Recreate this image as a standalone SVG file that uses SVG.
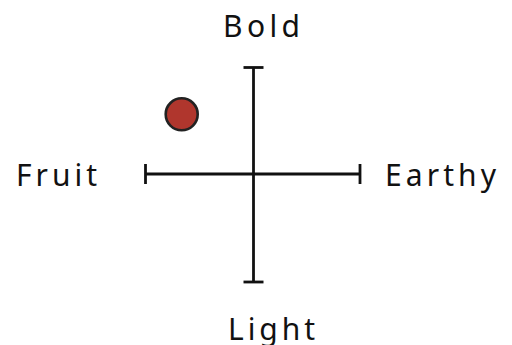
<svg xmlns="http://www.w3.org/2000/svg" width="512" height="345" viewBox="0 0 512 345">
<style>
.ax{stroke:#111;stroke-width:2.8;fill:none}
.lbl{font-family:"Noto Sans","DejaVu Sans",sans-serif;font-size:30px;fill:#111;letter-spacing:2px}
</style>
<rect width="512" height="345" fill="#fff"/>
<g id="axes">
<line class="ax" x1="253.5" y1="67.5" x2="253.5" y2="282"/>
<line class="ax" x1="243.5" y1="67.5" x2="263.5" y2="67.5"/>
<line class="ax" x1="243.5" y1="282" x2="263.5" y2="282"/>
<line class="ax" x1="145.5" y1="174" x2="360" y2="174"/>
<line class="ax" x1="145.5" y1="164" x2="145.5" y2="184"/>
<line class="ax" x1="360" y1="164" x2="360" y2="184"/>
</g>
<g id="point"><circle cx="181.7" cy="114.3" r="16" fill="#b0362d" stroke="#222" stroke-width="2.6"/></g>
<g id="label-bold"><text class="lbl" x="223" y="37" textLength="79" lengthAdjust="spacing">Bold</text></g>
<g id="label-fruit"><text class="lbl" x="16" y="186" textLength="83" lengthAdjust="spacing">Fruit</text></g>
<g id="label-earthy"><text class="lbl" x="385" y="186" textLength="113" lengthAdjust="spacing">Earthy</text></g>
<g id="label-light"><text class="lbl" x="228" y="340" textLength="89" lengthAdjust="spacing">Light</text></g>
</svg>
